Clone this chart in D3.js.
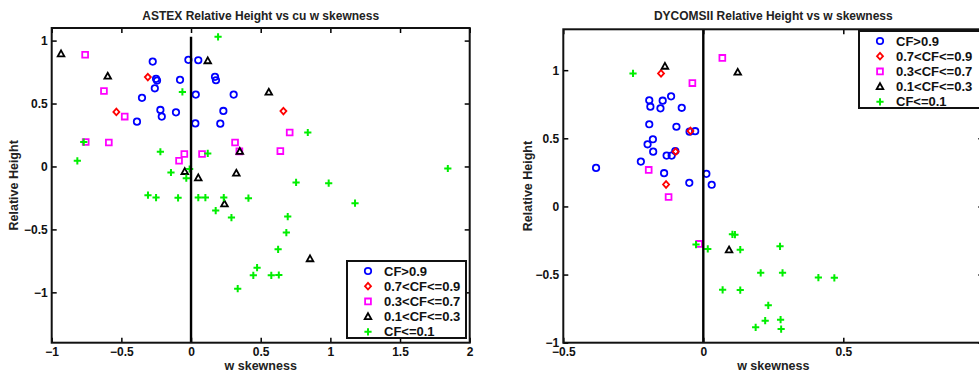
<!DOCTYPE html>
<html>
<head>
<meta charset="utf-8">
<script src="https://cdn.jsdelivr.net/npm/d3@7"></script>
<style>
  body { margin: 0; background: #fff; }
  svg { display: block; font-family: "Liberation Sans", Arial, sans-serif; }
</style>
</head>
<body>
<div id="chartArea"></div>
<script>
// series labels (legend order)
const seriesNames = ["CF>0.9", "0.7<CF<=0.9", "0.3<CF<=0.7", "0.1<CF<=0.3", "CF<=0.1"];
const seriesColors = ["#0000ff", "#ff0000", "#ff00ff", "#000000", "#00ee00"];
const seriesShapes = ["circle", "diamond", "square", "triangle", "plus"];

// ASTEX panel, [w skewness, relative height]
const astexCF09 = [[-0.275,0.833],[-0.019,0.847],[0.052,0.844],[-0.251,0.696],[-0.244,0.682],[-0.079,0.688],
  [0.172,0.712],[0.179,0.685],[-0.26,0.621],[0.034,0.571],[0.306,0.571],[-0.352,0.545],[-0.22,0.449],
  [-0.21,0.396],[-0.108,0.43],[0.232,0.441],[-0.388,0.356],[0.031,0.342],[0.21,0.34]];
const astexCF07 = [[-0.31,0.71],[-0.536,0.433],[0.663,0.44]];
const astexCF03 = [[-0.76,0.887],[-0.625,0.6],[-0.476,0.396],[-0.756,0.194],[-0.59,0.19],[-0.048,0.099],
  [-0.086,0.045],[0.079,0.099],[0.316,0.19],[0.708,0.27],[0.641,0.122],[0.347,0.12]];
const astexCF01 = [[-0.933,0.895],[-0.598,0.717],[0.12,0.84],[0.558,0.59],[0.35,0.12],[-0.045,-0.04],
  [0.052,-0.09],[0.325,-0.053],[0.24,-0.297],[0.854,-0.733]];
const astexCF00 = [[0.194,1.03],[-0.062,0.592],[-0.77,0.194],[-0.816,0.045],[-0.22,0.117],[0.12,0.104],
  [0.838,0.27],[1.843,-0.016],[-0.144,-0.048],[-0.01,-0.02],[-0.034,-0.093],[0.754,-0.127],[0.988,-0.133],
  [-0.309,-0.228],[-0.251,-0.247],[-0.093,-0.249],[0.052,-0.247],[0.103,-0.247],[0.235,-0.247],[0.412,-0.252],
  [1.177,-0.292],[0.177,-0.35],[0.29,-0.406],[0.694,-0.398],[0.684,-0.525],[0.625,-0.658],[0.474,-0.804],
  [0.447,-0.865],[0.576,-0.865],[0.63,-0.862],[0.335,-0.971]];

// DYCOMSII panel
const dycomsCF09 = [[-0.383,0.283],[-0.193,0.779],[-0.145,0.776],[-0.115,0.808],[-0.189,0.732],[-0.153,0.72],
  [-0.077,0.724],[-0.193,0.603],[-0.096,0.585],[-0.049,0.549],[-0.029,0.552],[-0.18,0.493],[-0.199,0.456],
  [-0.179,0.402],[-0.223,0.329],[-0.131,0.373],[-0.113,0.373],[-0.1,0.407],[-0.14,0.244],[-0.05,0.173],
  [0.011,0.239],[0.03,0.159]];
const dycomsCF07 = [[-0.151,0.976],[-0.046,0.554],[-0.099,0.402],[-0.133,0.161]];
const dycomsCF03 = [[0.068,1.09],[-0.039,0.905],[-0.195,0.268],[-0.124,0.069],[-0.015,-0.275]];
const dycomsCF01 = [[-0.137,1.029],[0.123,0.985],[0.092,-0.319]];
const dycomsCF00 = [[-0.251,0.976],[-0.026,-0.28],[0.016,-0.312],[0.104,-0.205],[0.113,-0.207],[0.132,-0.317],
  [0.274,-0.293],[0.205,-0.487],[0.283,-0.487],[0.411,-0.522],[0.468,-0.524],[0.069,-0.612],[0.132,-0.614],
  [0.232,-0.726],[0.221,-0.838],[0.276,-0.831],[0.187,-0.887],[0.278,-0.9]];

// axis ticks (x = 1 of the DYCOMSII panel falls outside the picture)
const astexXTicks = [-1, -0.5, 0, 0.5, 1, 1.5, 2];
const astexYTicks = [-1, -0.5, 0, 0.5, 1];
const dycomsXTicks = [-0.5, 0, 0.5];
const dycomsYTicks = [-1, -0.5, 0, 0.5, 1];

const svg = d3.select("#chartArea").append("svg")
  .attr("width", 979)
  .attr("height", 373);

function markerPath(shape) {
  switch (shape) {
    case "circle": return "M3.2,0A3.2,3.2 0 1,1 -3.2,0A3.2,3.2 0 1,1 3.2,0Z";
    case "diamond": return "M0,-3.3L3,0L0,3.3L-3,0Z";
    case "square": return "M-2.9,-2.9H2.9V2.9H-2.9Z";
    case "triangle": return "M0,-3.4L3.3,2.5H-3.3Z";
    default: return "M-3.6,0H3.6M0,-3.6V3.6";
  }
}

function drawMarkers(g, pts, i, x, y) {
  g.selectAll(null)
    .data(pts)
    .enter().append("path")
    .attr("transform", d => `translate(${x(d[0])},${y(d[1])})`)
    .attr("d", markerPath(seriesShapes[i]))
    .attr("fill", "none")
    .attr("stroke", seriesColors[i])
    .attr("stroke-width", seriesShapes[i] === "plus" ? 2 : 1.8);
}

function drawPanel(p) {
  const x = d3.scaleLinear().domain(p.xDomain).range(p.xRange);
  const y = d3.scaleLinear().domain(p.yDomain).range(p.yRange);
  const g = svg.append("g");
  const [x0, x1] = p.xRange, [y0, y1] = [p.yRange[1], p.yRange[0]];

  // data markers
  p.series.forEach((pts, i) => drawMarkers(g, pts, i, x, y));

  // vertical zero line
  g.append("line")
    .attr("x1", x(0)).attr("x2", x(0))
    .attr("y1", y(p.zeroTop)).attr("y2", y1)
    .attr("stroke", "#000").attr("stroke-width", 2.4);

  // axes with inward ticks (box style)
  const axStyle = sel => {
    sel.select(".domain").remove();
    sel.selectAll(".tick line").attr("stroke", "#000").attr("stroke-width", 1.5);
    sel.selectAll("text").attr("fill", "#111").style("font-size", "12px").style("font-weight", "bold");
  };
  g.append("g").attr("transform", `translate(0,${y1})`)
    .call(d3.axisBottom(x).tickValues(p.xTicks).tickSize(-5).tickPadding(5).tickFormat(d3.format("")))
    .call(axStyle);
  g.append("g").attr("transform", `translate(0,${y0})`)
    .call(d3.axisTop(x).tickValues(p.xTicks).tickSize(-5).tickFormat(""))
    .call(axStyle);
  g.append("g").attr("transform", `translate(${x0},0)`)
    .call(d3.axisLeft(y).tickValues(p.yTicks).tickSize(-5).tickPadding(4).tickFormat(d3.format("")))
    .call(axStyle);
  g.append("g").attr("transform", `translate(${x1},0)`)
    .call(d3.axisRight(y).tickValues(p.yTicks).tickSize(-5).tickFormat(""))
    .call(axStyle);

  g.append("rect")
    .attr("x", x0).attr("y", y0)
    .attr("width", x1 - x0).attr("height", y1 - y0)
    .attr("fill", "none").attr("stroke", "#111").attr("stroke-width", 2);

  // title and axis labels
  g.append("text")
    .attr("x", (x0 + x1) / 2).attr("y", 20)
    .attr("text-anchor", "middle")
    .style("font-size", "12px").style("font-weight", "bold").attr("fill", "#222")
    .text(p.title);
  g.append("text")
    .attr("x", (x0 + x1) / 2).attr("y", 370)
    .attr("text-anchor", "middle")
    .style("font-size", "12.5px").style("font-weight", "bold").attr("fill", "#222")
    .text("w skewness");
  g.append("text")
    .attr("transform", `translate(${p.yLabelX},${(y0 + y1) / 2}) rotate(-90)`)
    .attr("text-anchor", "middle")
    .style("font-size", "12.5px").style("font-weight", "bold").attr("fill", "#222")
    .text("Relative Height");

  // legend
  const lg = g.append("g").attr("transform", `translate(${p.legend[0]},${p.legend[1]})`);
  lg.append("rect")
    .attr("width", p.legend[2]).attr("height", 77)
    .attr("fill", "#fff").attr("stroke", "#111").attr("stroke-width", 2);
  seriesNames.forEach((name, i) => {
    const row = lg.append("g").attr("transform", `translate(0,${10 + i * 15.2})`);
    row.append("path")
      .attr("transform", "translate(21,0)")
      .attr("d", markerPath(seriesShapes[i]))
      .attr("fill", "none")
      .attr("stroke", seriesColors[i])
      .attr("stroke-width", seriesShapes[i] === "plus" ? 2 : 1.8);
    row.append("text")
      .attr("x", 37).attr("y", 4.5)
      .style("font-size", "13px").style("font-weight", "bold").attr("fill", "#111")
      .text(name);
  });
}

drawPanel({
  title: "ASTEX Relative Height vs cu w skewness",
  series: [astexCF09, astexCF07, astexCF03, astexCF01, astexCF00],
  xDomain: [-1, 2], xRange: [51.7, 469.7],
  yDomain: [-1.4, 1.1], yRange: [342.7, 28],
  xTicks: astexXTicks, yTicks: astexYTicks,
  zeroTop: 1.03, yLabelX: 18,
  legend: [347, 261, 119]
});

drawPanel({
  title: "DYCOMSII Relative Height vs w skewness",
  series: [dycomsCF09, dycomsCF07, dycomsCF03, dycomsCF01, dycomsCF00],
  xDomain: [-0.5, 1], xRange: [563.3, 983.3],
  yDomain: [-1, 1.3], yRange: [342.7, 29.3],
  xTicks: dycomsXTicks, yTicks: dycomsYTicks,
  zeroTop: 1.3, yLabelX: 532,
  legend: [859, 31, 124]
});
</script>
</body>
</html>
